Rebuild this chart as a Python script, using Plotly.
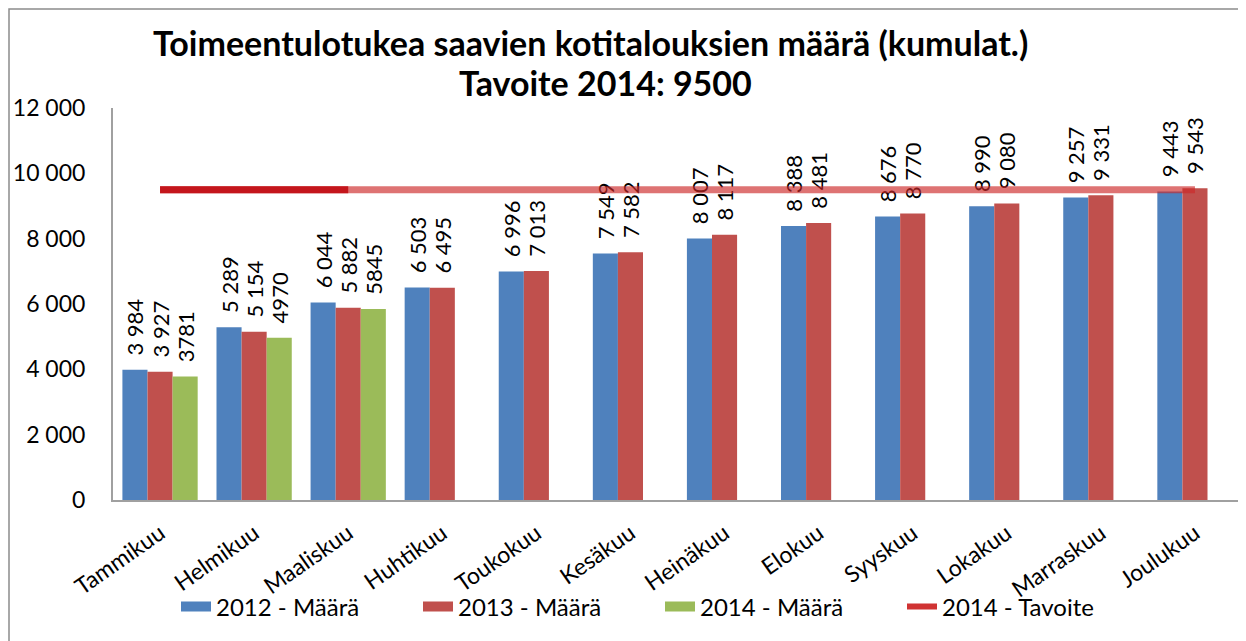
import plotly.graph_objects as go

months = ["Tammikuu", "Helmikuu", "Maaliskuu", "Huhtikuu", "Toukokuu", "Kesäkuu",
          "Heinäkuu", "Elokuu", "Syyskuu", "Lokakuu", "Marraskuu", "Joulukuu"]
v2012 = [3984, 5289, 6044, 6503, 6996, 7549, 8007, 8388, 8676, 8990, 9257, 9443]
v2013 = [3927, 5154, 5882, 6495, 7013, 7582, 8117, 8481, 8770, 9080, 9331, 9543]
v2014 = [3781, 4970, 5845]
target = 9500
target_value = [target] * len(months)

title_line1 = "Toimeentulotukea saavien kotitalouksien määrä (kumulat.)"
title_line2 = "Tavoite 2014: 9500"

C2012, C2013, C2014, CLINE = "#4F81BD", "#C0504D", "#9BBB59", "#C4161C"

PAD = "\u00a0\u00a0"
def spaced(v):
    return PAD + f"{v:,}".replace(",", " ")

FONT = "Lato"
lab_font = dict(family=FONT, size=22, color="black")

fig = go.Figure()
for vals, col, txt in [(v2012, C2012, [spaced(v) for v in v2012]),
                       (v2013, C2013, [spaced(v) for v in v2013]),
                       (v2014, C2014, [PAD + str(v) for v in v2014])]:
    fig.add_trace(go.Bar(x=months[:len(vals)], y=vals, marker_color=col,
                         marker_line_width=0, showlegend=False,
                         text=txt, textposition="outside",
                         textangle=-90, textfont=lab_font, constraintext="none",
                         cliponaxis=False))
fig.add_trace(go.Scatter(x=months, y=target_value, mode="lines", showlegend=False,
                         line=dict(color="rgba(205,40,40,0.65)", width=7),
                         cliponaxis=False))
fig.add_trace(go.Scatter(x=months[:3], y=target_value[:3], mode="lines", showlegend=False,
                         line=dict(color=CLINE, width=7), cliponaxis=False))

# legend entries
for name, col, w in [("2012 - Määrä", C2012, 16), ("2013 - Määrä", C2013, 16),
                     ("2014 - Määrä", C2014, 16), ("2014 - Tavoite", "#D03333", 6)]:
    fig.add_trace(go.Scatter(x=[None], y=[None], mode="lines", name=name,
                             line=dict(color=col, width=w)))

# page has an 8px body margin: figure is 1238x633 and offset by (8, 8)
fig.update_layout(
    width=1238, height=633,
    margin=dict(l=105, r=4, t=100, b=141, autoexpand=False),
    paper_bgcolor="white", plot_bgcolor="white",
    font=dict(family=FONT, color="black"),
    separators=". ",
    barmode="group", bargap=0.2, bargroupgap=0,
    legend=dict(orientation="h", x=(176 - 113) / 1129, xanchor="left",
                y=(500 - 607) / 392, yanchor="middle", bgcolor="rgba(0,0,0,0)",
                font=dict(family=FONT, size=24, color="black"),
                traceorder="normal", entrywidth=197, entrywidthmode="pixels"),
    xaxis=dict(tickangle=-35, tickfont=dict(family=FONT, size=23),
               showline=True, linecolor="#A0A0A0", linewidth=2, showgrid=False,
               ticks="", ticklabelstandoff=9, automargin=False),
    yaxis=dict(range=[0, 12000], dtick=2000, tickformat=",d",
               tickfont=dict(family=FONT, size=23),
               showline=True, linecolor="#A0A0A0", linewidth=2, showgrid=False,
               zeroline=False, ticks="", ticklabelstandoff=21, automargin=False),
    annotations=[
        dict(text="<b>" + title_line1 + "</b>", xref="paper", yref="paper",
             x=(590 - 113) / 1129, y=(500 - 42) / 392, xanchor="center", yanchor="middle",
             showarrow=False, font=dict(family=FONT, size=34, color="black")),
        dict(text="<b>" + title_line2 + "</b>", xref="paper", yref="paper",
             x=(605 - 113) / 1129, y=(500 - 82) / 392, xanchor="center", yanchor="middle",
             showarrow=False, font=dict(family=FONT, size=34, color="black")),
    ],
    shapes=[dict(type="rect", xref="paper", yref="paper",
                 x0=(9 - 113) / 1129, x1=(1260 - 113) / 1129,
                 y0=(500 - 660) / 392, y1=(500 - 9) / 392,
                 line=dict(color="#8C8C8C", width=1.5), fillcolor="rgba(0,0,0,0)",
                 layer="below")],
)

fig.write_html("out.html")
